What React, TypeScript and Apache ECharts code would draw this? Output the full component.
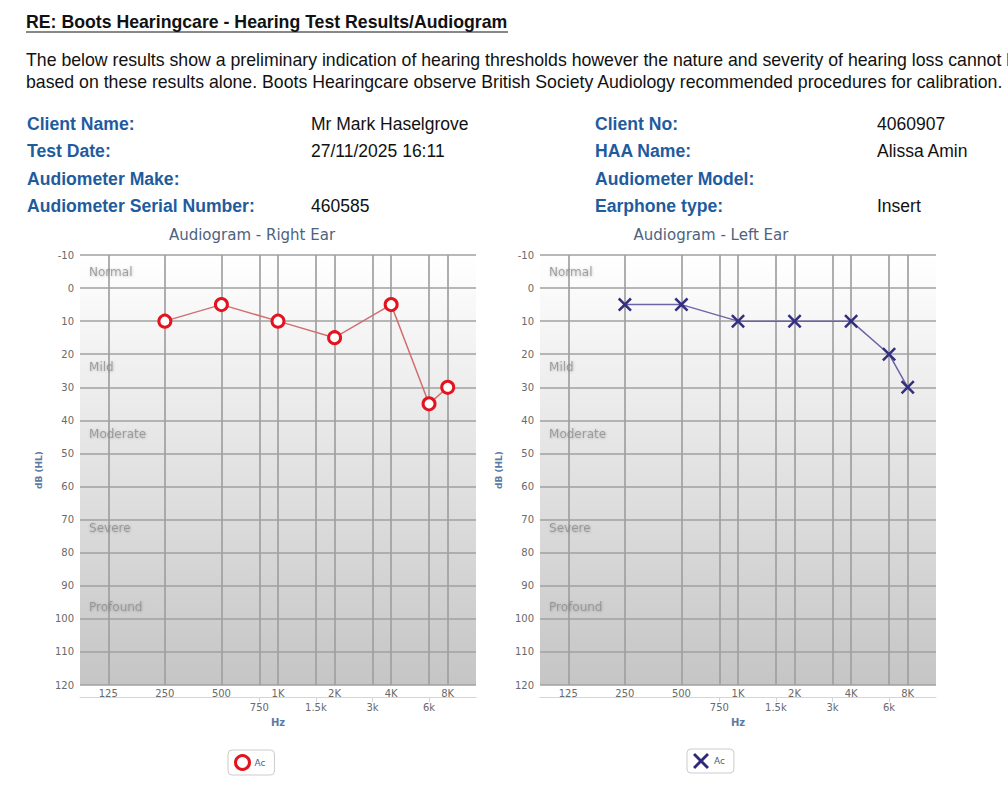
import React, { useEffect, useRef } from "react";
import * as echarts from "echarts";

// ---- data ----
const axisFreqs = [125, 250, 500, 750, 1000, 1500, 2000, 3000, 4000, 6000, 8000];
// position of each frequency on the audiogram's octave scale
const axisPositions = [0, 1, 2, 2.67, 3, 3.67, 4, 4.67, 5, 5.67, 6];
const mainFreqs = [125, 250, 500, 1000, 2000, 4000, 8000];
const mainLabels = ["125", "250", "500", "1K", "2K", "4K", "8K"];
const midFreqs = [750, 1500, 3000, 6000];
const midLabels = ["750", "1.5k", "3k", "6k"];

const testFreqs = [250, 500, 1000, 2000, 4000, 6000, 8000];
const rightEarValues = [10, 5, 10, 15, 5, 35, 30];
const leftEarValues = [5, 5, 10, 10, 10, 20, 30];

const bandNames = ["Normal", "Mild", "Moderate", "Severe", "Profound"];
const bandLabelDb = [-5, 24, 44, 72.5, 96.5];

const infoLeftLabels = ["Client Name:", "Test Date:", "Audiometer Make:", "Audiometer Serial Number:"];
const infoLeftValues = ["Mr Mark Haselgrove", "27/11/2025 16:11", "", "460585"];
const infoRightLabels = ["Client No:", "HAA Name:", "Audiometer Model:", "Earphone type:"];
const infoRightValues = ["4060907", "Alissa Amin", "", "Insert"];

const headerTitle = "RE: Boots Hearingcare - Hearing Test Results/Audiogram";
const paragraphLines = [
  "The below results show a preliminary indication of hearing thresholds however the nature and severity of hearing loss cannot be",
  "based on these results alone. Boots Hearingcare observe British Society Audiology recommended procedures for calibration.",
];

const pos = (f: number) => axisPositions[axisFreqs.indexOf(f)];
const labelAt = (v: number, freqs: number[], labels: string[]) => {
  let best = 0;
  let bd = Infinity;
  freqs.forEach((f, i) => {
    const d = Math.abs(pos(f) - v);
    if (d < bd) {
      bd = d;
      best = i;
    }
  });
  return labels[best];
};

const X_PATH =
  "path://M0,1.27L1.27,0L5,3.73L8.73,0L10,1.27L6.27,5L10,8.73L8.73,10L5,6.27L1.27,10L0,8.73L3.73,5Z";

const FONT = "DejaVu Sans";
const SANS = "Liberation Sans";

export default function App() {
  const ref = useRef<HTMLDivElement>(null);

  useEffect(() => {
    if (!ref.current) return;
    const chart = echarts.init(ref.current, null, { renderer: "svg" });

    const grids = [
      { left: 80, top: 255, width: 396, height: 430 },
      { left: 540, top: 255, width: 396, height: 430 },
    ];
    const bg = new echarts.graphic.LinearGradient(0, 0, 0, 1, [
      { offset: 0, color: "#ffffff" },
      { offset: 1, color: "#c5c5c5" },
    ]);
    const gridLine = { color: "#a0a0a0", width: 1.7 };

    const xAxes: any[] = [];
    const yAxes: any[] = [];
    grids.forEach((_, gi) => {
      xAxes.push({
        gridIndex: gi,
        type: "value",
        min: -0.5,
        max: 6.5,
        position: "bottom",
        axisLine: { show: false },
        axisTick: { show: false, customValues: axisFreqs.map(pos) },
        splitLine: { show: true, lineStyle: gridLine },
        axisLabel: {
          customValues: mainFreqs.map(pos),
          formatter: (v: number) => labelAt(v, mainFreqs, mainLabels),
          color: "#6a6a6a",
          fontSize: 10,
          fontFamily: FONT,
          margin: 3,
        },
      });
      xAxes.push({
        gridIndex: gi,
        type: "value",
        min: -0.5,
        max: 6.5,
        position: "bottom",
        offset: 12,
        axisLine: { show: true, lineStyle: { color: "#c9d7e8", width: 1 } },
        axisTick: {
          show: true,
          customValues: midFreqs.map(pos),
          length: 5,
          lineStyle: { color: "#c9d7e8" },
        },
        splitLine: { show: false },
        axisLabel: {
          customValues: midFreqs.map(pos),
          formatter: (v: number) => labelAt(v, midFreqs, midLabels),
          color: "#6a6a6a",
          fontSize: 10,
          fontFamily: FONT,
          margin: 5,
        },
        name: "Hz",
        nameLocation: "middle",
        nameGap: 20,
        nameTextStyle: { color: "#5b7ba3", fontSize: 10, fontWeight: "bold", fontFamily: FONT },
      });
      yAxes.push({
        gridIndex: gi,
        type: "value",
        inverse: true,
        min: -10,
        max: 120,
        interval: 10,
        axisLine: { show: false },
        axisTick: { show: false },
        axisLabel: { color: "#6a6a6a", fontSize: 10, fontFamily: FONT, margin: 6 },
        splitLine: { lineStyle: gridLine },
        name: "dB (HL)",
        nameLocation: "middle",
        nameGap: 37,
        nameTextStyle: { color: "#5b7ba3", fontSize: 9, fontWeight: "bold", fontFamily: FONT },
      });
    });

    const bandSeries = (gi: number) => ({
      type: "scatter",
      xAxisIndex: gi * 2,
      yAxisIndex: gi,
      silent: true,
      symbolSize: 0,
      z: 2,
      data: bandNames.map((n, i) => ({ name: n, value: [-0.34, bandLabelDb[i]] })),
      label: {
        show: true,
        position: "right",
        distance: 0,
        formatter: (p: any) => p.name,
        color: "#8c8c8c",
        fontSize: 12,
        fontFamily: FONT,
        textShadowColor: "rgba(0,0,0,0.3)",
        textShadowBlur: 2,
        textShadowOffsetX: 0.5,
        textShadowOffsetY: 0.5,
      },
    });

    const graphics: any[] = [];
    const txt = (text: string, x: number, y: number, font: string, fill: string, align = "left") => ({
      type: "text",
      x,
      y,
      silent: true,
      style: {
        text,
        font,
        fill,
        textAlign: align,
        textVerticalAlign: "middle",
        align,
        verticalAlign: "middle",
      },
    });
    graphics.push(txt(headerTitle, 26, 22, `bold 17.7px "${SANS}"`, "#111111"));
    graphics.push({
      type: "line",
      silent: true,
      shape: { x1: 26, y1: 32, x2: 508, y2: 32 },
      style: { stroke: "#111111", lineWidth: 1 },
    });
    paragraphLines.forEach((l, i) => graphics.push(txt(l, 26, 60 + i * 22, `17.7px "${SANS}"`, "#111111")));
    const rowY = [124, 151, 179, 206];
    infoLeftLabels.forEach((l, i) => {
      graphics.push(txt(l, 27, rowY[i], `bold 17.6px "${SANS}"`, "#1f5c9e"));
      if (infoLeftValues[i]) graphics.push(txt(infoLeftValues[i], 311, rowY[i], `17.5px "${SANS}"`, "#111111"));
      graphics.push(txt(infoRightLabels[i], 595, rowY[i], `bold 17.6px "${SANS}"`, "#1f5c9e"));
      if (infoRightValues[i]) graphics.push(txt(infoRightValues[i], 877, rowY[i], `17.5px "${SANS}"`, "#111111"));
    });
    graphics.push(txt("Audiogram - Right Ear", 252, 235, `15px "${FONT}"`, "#4d6380", "center"));
    graphics.push(txt("Audiogram - Left Ear", 711, 235, `15px "${FONT}"`, "#4d6380", "center"));

    const legendBase = {
      orient: "horizontal",
      selectedMode: false,
      itemWidth: 14,
      itemHeight: 14,
      borderColor: "#cccccc",
      borderWidth: 1,
      borderRadius: 4,
      padding: [4, 9, 4, 6],
      formatter: () => "Ac",
      textStyle: { fontSize: 9, color: "#4a6080", fontFamily: FONT, padding: [0, 0, 4, 0] },
    };

    chart.setOption({
      animation: false,
      backgroundColor: "#ffffff",
      textStyle: { fontFamily: FONT },
      grid: grids.map((g) => ({ ...g, show: true, borderWidth: 0, backgroundColor: bg })),
      xAxis: xAxes,
      yAxis: yAxes,
      legend: [
        {
          ...legendBase,
          left: 228,
          top: 750,
          data: [
            {
              name: "Right Ac",
              icon: "circle",
              itemStyle: { color: "#ffffff", borderColor: "#e3141f", borderWidth: 3 },
            },
          ],
        },
        {
          ...legendBase,
          left: 687,
          top: 749,
          itemWidth: 16,
          itemHeight: 16,
          data: [{ name: "Left Ac", icon: X_PATH, itemStyle: { color: "#2e2a78" } }],
        },
      ],
      graphic: graphics,
      series: [
        bandSeries(0),
        bandSeries(1),
        {
          type: "line",
          name: "Right Ac",
          xAxisIndex: 0,
          yAxisIndex: 0,
          z: 5,
          data: testFreqs.map((f, i) => [pos(f), rightEarValues[i]]),
          symbol: "circle",
          symbolSize: 12,
          itemStyle: { color: "#ffffff", borderColor: "#e3141f", borderWidth: 3 },
          lineStyle: { color: "#d07070", width: 1.5 },
        },
        {
          type: "line",
          name: "Left Ac",
          xAxisIndex: 2,
          yAxisIndex: 1,
          z: 5,
          data: testFreqs.map((f, i) => [pos(f), leftEarValues[i]]),
          symbol: X_PATH,
          symbolSize: 14,
          itemStyle: { color: "#332e80" },
          lineStyle: { color: "#6c64a6", width: 1.5 },
        },
      ],
    });

    return () => chart.dispose();
  }, []);

  return (
    <div
      ref={ref}
      style={{ position: "absolute", left: 0, top: 0, width: 1008, height: 794, overflow: "hidden", background: "#fff" }}
    />
  );
}
